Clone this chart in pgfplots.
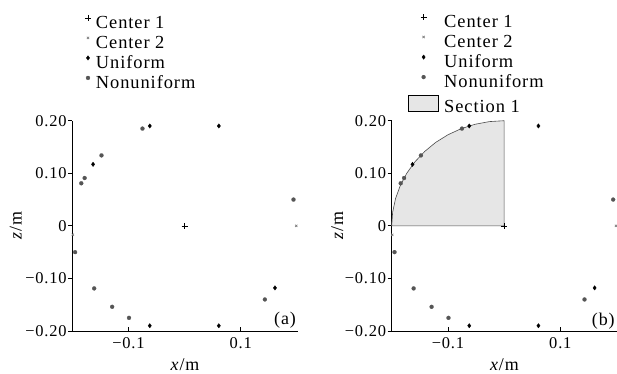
\documentclass[border=0pt]{standalone}
\usepackage{pgfplots}
\pgfplotsset{compat=1.18}
\usepackage{fontspec}
\setmainfont{Liberation Serif}[LetterSpace=5.0]
\definecolor{dotgray}{HTML}{555555}
\definecolor{secfill}{HTML}{E6E6E6}
\newcommand{\tl}[1]{\mbox{\fontsize{16.5}{19}\selectfont #1}}
\begin{document}
\begin{tikzpicture}
\useasboundingbox (0,0) rectangle (617bp,374bp);
\pgfplotsset{
  myaxis/.style={
    scale only axis, anchor=south west,
    width=225.4bp, height=210.3bp,
    xmin=-0.2, xmax=0.2015, ymin=-0.2, ymax=0.2,
    axis x line=bottom, axis y line=left,
    axis line style={-, line width=0.9bp},
    tick align=outside, major tick length=4bp,
    tick style={line width=0.8bp, black},
    xtick style={yshift=4bp},
    /pgf/number format/assume math mode=true,
    xtick={-0.1,0.1}, xticklabels={\tl{−0.1},\tl{0.1}},
    ytick={-0.2,-0.1,0,0.1,0.2}, yticklabels={\tl{−0.20},\tl{−0.10},\tl{0},\tl{0.10},\tl{0.20}},
    tick label style={font=\fontsize{16.5}{19}\selectfont},
    xticklabel style={inner sep=0pt, yshift=-2.5bp},
    yticklabel style={inner sep=0pt, xshift=-1.4bp},
    xlabel={\textit{x}/m}, ylabel={\textit{z}/m},
    label style={font=\fontsize{18}{20}\selectfont},
    xlabel style={at={(axis description cs:0.5,-0.1855)}, anchor=base},
    legend style={draw=none, fill=none, inner sep=0pt, outer sep=0pt, anchor=north west,
      font=\fontsize{18.5}{20}\selectfont, row sep=3bp, column sep=5bp,
      nodes={inner sep=0pt, text height=13bp, text depth=4bp}},
    legend cell align=left,
    clip=false,
  },
  c1/.style={only marks, mark=+, mark size=3bp, black, mark options={line width=0.6bp}},
  c2/.style={only marks, mark=x, mark size=1.6bp, gray, mark options={line width=0.7bp}},
  un/.style={only marks, mark=diamond*, mark size=2.2bp, black, mark options={line width=0.3bp}},
  nu/.style={only marks, mark=*, mark size=2bp, dotgray, mark options={line width=0.2bp}},
}
% ---------------- (a) ----------------
\begin{axis}[myaxis, at={(72.3bp,43bp)},
  ylabel style={at={(axis description cs:-0.2245,0.5)}, anchor=base},
  legend style={at={(axis description cs:0.0563,1.503)}},
  legend image code/.code={\draw[mark repeat=2,mark phase=2,#1,yshift=6bp] plot coordinates {(0bp,0bp) (5bp,0bp) (10bp,0bp)};}]
\addplot[c1] coordinates {(0,0)};
\addlegendentry{Center 1}
\addplot[c2] coordinates {(0.199,0) (-0.199,-0.017)};
\addlegendentry{Center 2}
\addplot[un] coordinates {(-0.062,0.190) (0.061,0.190) (-0.163,0.117) (-0.062,-0.190) (0.061,-0.190) (0.161,-0.118)};
\addlegendentry{Uniform}
\addplot[nu] coordinates {(-0.075,0.185) (-0.184,0.081) (-0.178,0.091) (-0.148,0.134) (0.194,0.050) (-0.195,-0.050) (-0.161,-0.119) (-0.129,-0.154) (-0.099,-0.175) (0.143,-0.140)};
\addlegendentry{Nonuniform}
\node[anchor=east, inner sep=0pt, font=\fontsize{18}{20}\selectfont] at (rel axis cs:0.993,0.052) {(a)};
\end{axis}
% ---------------- (b) ----------------
\begin{axis}[myaxis, at={(391.7bp,43bp)}, xmax=0.201,
  ylabel style={at={(axis description cs:-0.215,0.5)}, anchor=base},
  legend style={at={(axis description cs:0.0724,1.507)}},
  legend image code/.code={\draw[mark repeat=2,mark phase=2,#1,yshift=6bp] plot coordinates {(0bp,0bp) (15bp,0bp) (30bp,0bp)};}]
\addplot[fill=secfill, draw=black!70, line width=0.6bp, forget plot] coordinates {
 (0,0) (0,0.2) (-0.0261,0.1983) (-0.0518,0.1932) (-0.0765,0.1848) (-0.1,0.1732)
 (-0.1218,0.1587) (-0.1414,0.1414) (-0.1587,0.1218) (-0.1732,0.1) (-0.1848,0.0765)
 (-0.1932,0.0518) (-0.1983,0.0261) (-0.2,0)} -- cycle;
\addplot[c1] coordinates {(0,0)};
\addlegendentry{Center 1}
\addplot[c2] coordinates {(0.199,0) (-0.199,-0.017)};
\addlegendentry{Center 2}
\addplot[un] coordinates {(-0.062,0.190) (0.061,0.190) (-0.163,0.117) (-0.062,-0.190) (0.061,-0.190) (0.161,-0.118)};
\addlegendentry{Uniform}
\addplot[nu] coordinates {(-0.075,0.185) (-0.184,0.081) (-0.178,0.091) (-0.148,0.134) (0.194,0.050) (-0.195,-0.050) (-0.161,-0.119) (-0.129,-0.154) (-0.099,-0.175) (0.143,-0.140)};
\addlegendentry{Nonuniform}
\addlegendimage{legend image code/.code={\draw[fill=secfill, draw=black, line width=1.2bp] (0bp,-3bp) rectangle (30bp,13bp);}}
\addlegendentry{Section 1}
\node[anchor=east, inner sep=0pt, font=\fontsize{18}{20}\selectfont] at (rel axis cs:0.99,0.045) {(b)};
\end{axis}
\end{tikzpicture}
\end{document}
